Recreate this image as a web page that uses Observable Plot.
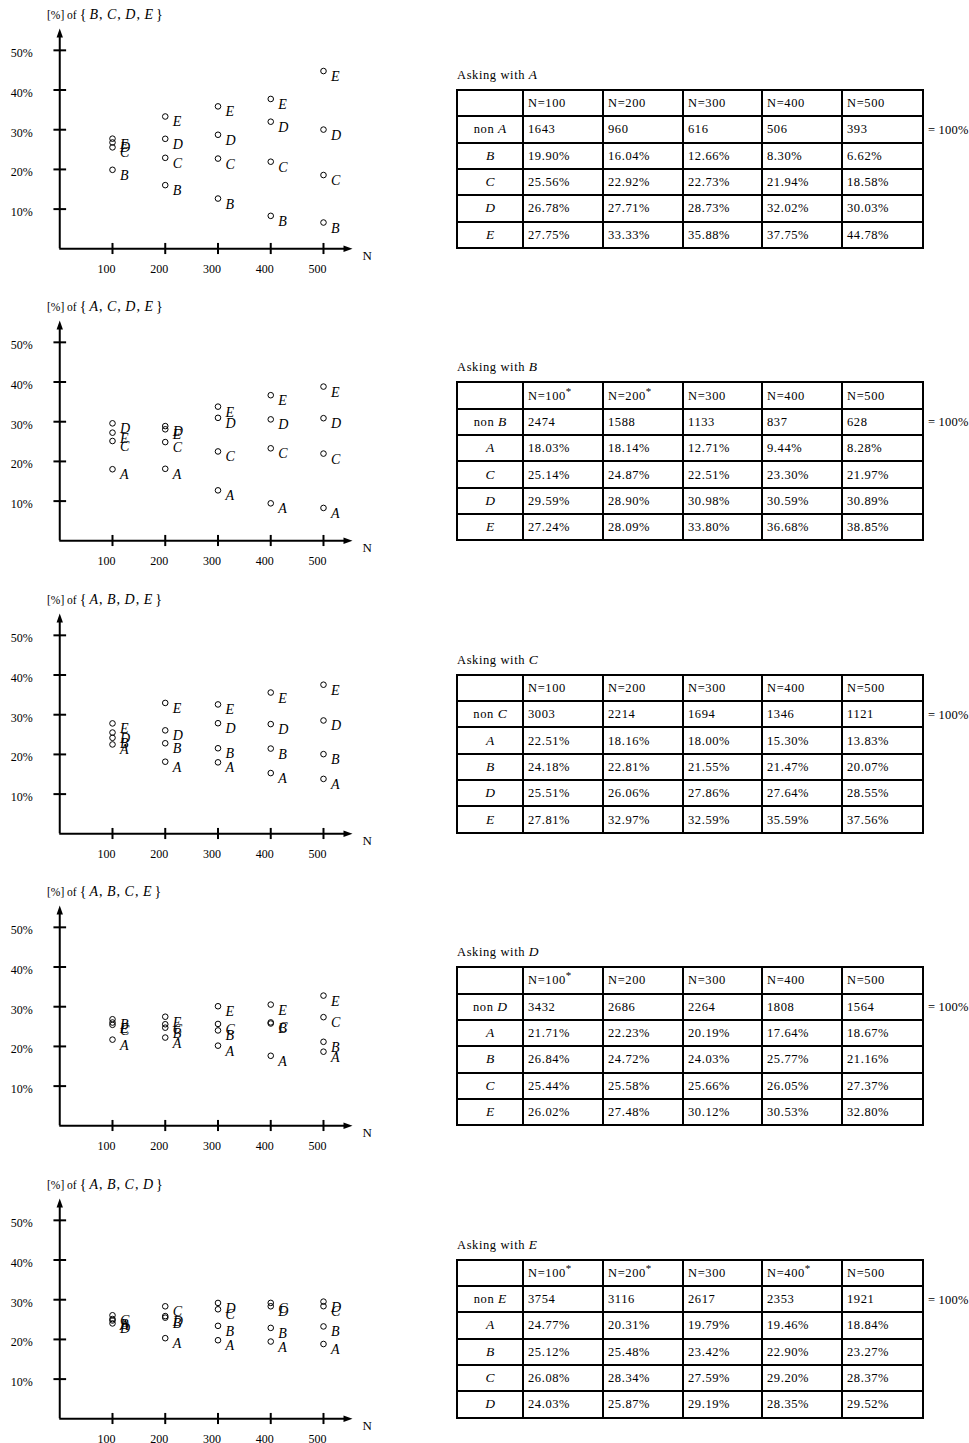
<!DOCTYPE html>
<html><head><meta charset="utf-8">
<script src="https://cdn.jsdelivr.net/npm/d3@7"></script>
<script src="https://cdn.jsdelivr.net/npm/@observablehq/plot@0.6"></script>
<style>
body{margin:0;background:#fff;font-family:"Liberation Serif","Times New Roman",serif;color:#000}
#root{position:relative;width:969px;height:1443px;overflow:hidden}
.abs{position:absolute;white-space:nowrap}
.ttl{font-size:11.5px;line-height:18px}
.ttl span{display:inline-block}
.ttl .mi{font-style:italic;font-size:14px}
.ttl .br{font-size:14px}
.ask{font-size:12.5px;line-height:16px;letter-spacing:0.6px}
.ask i, td i{font-size:13.5px;letter-spacing:0}
.eq{font-size:12.5px;line-height:16px;letter-spacing:0.2px}
table.t{position:absolute;border-collapse:collapse;table-layout:fixed;width:466px;height:160px;font-size:12.5px;letter-spacing:0.6px}
table.t td{border:2px solid #000;padding:0 0 0 4px;vertical-align:middle;line-height:14px}
table.t td.rh{text-align:center;padding:0}
table.t sup{font-size:11px;line-height:0;vertical-align:5px}
</style>
</head><body><div id="root"></div>
<script>
// ---- data ----
const nValues = [100, 200, 300, 400, 500];
const askers = ["A", "B", "C", "D", "E"];
const yTicks = [10, 20, 30, 40, 50];
const xTicks = [100, 200, 300, 400, 500];

const nonA = [1643, 960, 616, 506, 393];
const nonB = [2474, 1588, 1133, 837, 628];
const nonC = [3003, 2214, 1694, 1346, 1121];
const nonD = [3432, 2686, 2264, 1808, 1564];
const nonE = [3754, 3116, 2617, 2353, 1921];

// rows: the other four letters, in alphabetical order
const pctA = [
  [19.90, 16.04, 12.66, 8.30, 6.62],
  [25.56, 22.92, 22.73, 21.94, 18.58],
  [26.78, 27.71, 28.73, 32.02, 30.03],
  [27.75, 33.33, 35.88, 37.75, 44.78]
];
const pctB = [
  [18.03, 18.14, 12.71, 9.44, 8.28],
  [25.14, 24.87, 22.51, 23.30, 21.97],
  [29.59, 28.90, 30.98, 30.59, 30.89],
  [27.24, 28.09, 33.80, 36.68, 38.85]
];
const pctC = [
  [22.51, 18.16, 18.00, 15.30, 13.83],
  [24.18, 22.81, 21.55, 21.47, 20.07],
  [25.51, 26.06, 27.86, 27.64, 28.55],
  [27.81, 32.97, 32.59, 35.59, 37.56]
];
const pctD = [
  [21.71, 22.23, 20.19, 17.64, 18.67],
  [26.84, 24.72, 24.03, 25.77, 21.16],
  [25.44, 25.58, 25.66, 26.05, 27.37],
  [26.02, 27.48, 30.12, 30.53, 32.80]
];
const pctE = [
  [24.77, 20.31, 19.79, 19.46, 18.84],
  [25.12, 25.48, 23.42, 22.90, 23.27],
  [26.08, 28.34, 27.59, 29.20, 28.37],
  [24.03, 25.87, 29.19, 28.35, 29.52]
];
const starredA = [];
const starredB = [100, 200];
const starredC = [];
const starredD = [100];
const starredE = [100, 200, 400];

const nonCounts = [nonA, nonB, nonC, nonD, nonE];
const pcts = [pctA, pctB, pctC, pctD, pctE];
const starred = [starredA, starredB, starredC, starredD, starredE];

// ---- layout ----
const xMax = 555, yMax = 55.5;
const panelStep = 292.4;
const serif = "'Liberation Serif','Times New Roman',serif";

const arrowRight = {draw(ctx) { ctx.moveTo(0, 0); ctx.lineTo(-9, -3.2); ctx.lineTo(-9, 3.2); ctx.closePath(); }};
const arrowUp = {draw(ctx) { ctx.moveTo(0, 0); ctx.lineTo(-3.2, 9); ctx.lineTo(3.2, 9); ctx.closePath(); }};

function scatter(others, pct) {
  const data = others.flatMap((s, j) => nValues.map((n, k) => ({n, v: pct[j][k], s})));
  return Plot.plot({
    width: 380, height: 285,
    style: {fontFamily: serif, background: "none", overflow: "visible", color: "black"},
    x: {domain: [0, xMax], range: [59.25, 352], axis: null},
    y: {domain: [0, yMax], range: [248.3, 28], axis: null},
    marks: [
      Plot.ruleY([0], {x1: 0, x2: xMax - 8, stroke: "black", strokeWidth: 2}),
      Plot.ruleX([0], {y1: 0, y2: yMax - 1.5, stroke: "black", strokeWidth: 2}),
      Plot.dot([xMax], {x: d => d, y: 0, symbol: arrowRight, fill: "black", stroke: null}),
      Plot.dot([yMax], {x: 0, y: d => d, symbol: arrowUp, fill: "black", stroke: null}),
      Plot.ruleY(yTicks, {x1: -11, x2: 13, stroke: "black", strokeWidth: 2}),
      Plot.ruleX(xTicks, {y1: -1.45, y2: 1.35, stroke: "black", strokeWidth: 2}),
      Plot.text(yTicks, {x: 0, y: d => d, text: d => d + "%", textAnchor: "end", dx: -27, dy: 3, fontSize: 12}),
      Plot.text(xTicks, {x: d => d, y: 0, text: d => String(d), dx: -6, dy: 20.5, fontSize: 12}),
      Plot.text(["N"], {x: xMax, y: 0, text: d => d, textAnchor: "start", dx: 10, dy: 7, fontSize: 13}),
      Plot.dot(data, {x: "n", y: "v", r: 2.8, stroke: "black", strokeWidth: 1, fill: "none"}),
      Plot.text(data, {x: "n", y: "v", text: "s", textAnchor: "start", dx: 7.5, dy: 5.5, fontSize: 14, fontStyle: "italic"})
    ]
  });
}

function buildTable(asker, others, non, pct, stars) {
  const t = document.createElement("table");
  t.className = "t";
  const widths = [66, 80, 80, 79, 80, 81];
  let html = "<colgroup>" + widths.map(w => `<col style="width:${w}px">`).join("") + "</colgroup>";
  html += "<tr><td class='rh'></td>" + nValues.map(n => `<td>N=${n}${stars.includes(n) ? "<sup>*</sup>" : ""}</td>`).join("") + "</tr>";
  html += `<tr><td class='rh'>non <i>${asker}</i></td>` + non.map(c => `<td>${c}</td>`).join("") + "</tr>";
  others.forEach((s, j) => {
    html += `<tr><td class='rh'><i>${s}</i></td>` + pct[j].map(v => `<td>${v.toFixed(2)}%</td>`).join("") + "</tr>";
  });
  t.innerHTML = html;
  return t;
}

const root = document.getElementById("root");
askers.forEach((asker, i) => {
  const top = i * panelStep;
  const others = askers.filter(a => a !== asker);

  const ttl = document.createElement("div");
  ttl.className = "abs ttl";
  ttl.style.left = "47px";
  ttl.style.top = (top + 6) + "px";
  ttl.innerHTML = "<span>[%] of</span><span class='br' style='margin-left:3px;margin-right:3px'>{</span>" +
    others.map((s, j) => `<span class='mi'>${s}</span>` + (j < others.length - 1 ? "<span class='br' style='margin-left:1px;margin-right:4.5px'>,</span>" : "")).join("") +
    "<span class='br' style='margin-left:3px'>}</span>";
  root.appendChild(ttl);

  const svg = scatter(others, pcts[i]);
  svg.style.position = "absolute";
  svg.style.left = "0px";
  svg.style.top = top + "px";
  root.appendChild(svg);

  const ask = document.createElement("div");
  ask.className = "abs ask";
  ask.style.left = "457px";
  ask.style.top = (top + 67) + "px";
  ask.innerHTML = `Asking with <i>${asker}</i>`;
  root.appendChild(ask);

  const t = buildTable(asker, others, nonCounts[i], pcts[i], starred[i]);
  t.style.left = "456px";
  t.style.top = (top + 89) + "px";
  root.appendChild(t);

  const eq = document.createElement("div");
  eq.className = "abs eq";
  eq.style.left = "928px";
  eq.style.top = (top + 122) + "px";
  eq.textContent = "= 100%";
  root.appendChild(eq);
});
</script>
</body></html>
